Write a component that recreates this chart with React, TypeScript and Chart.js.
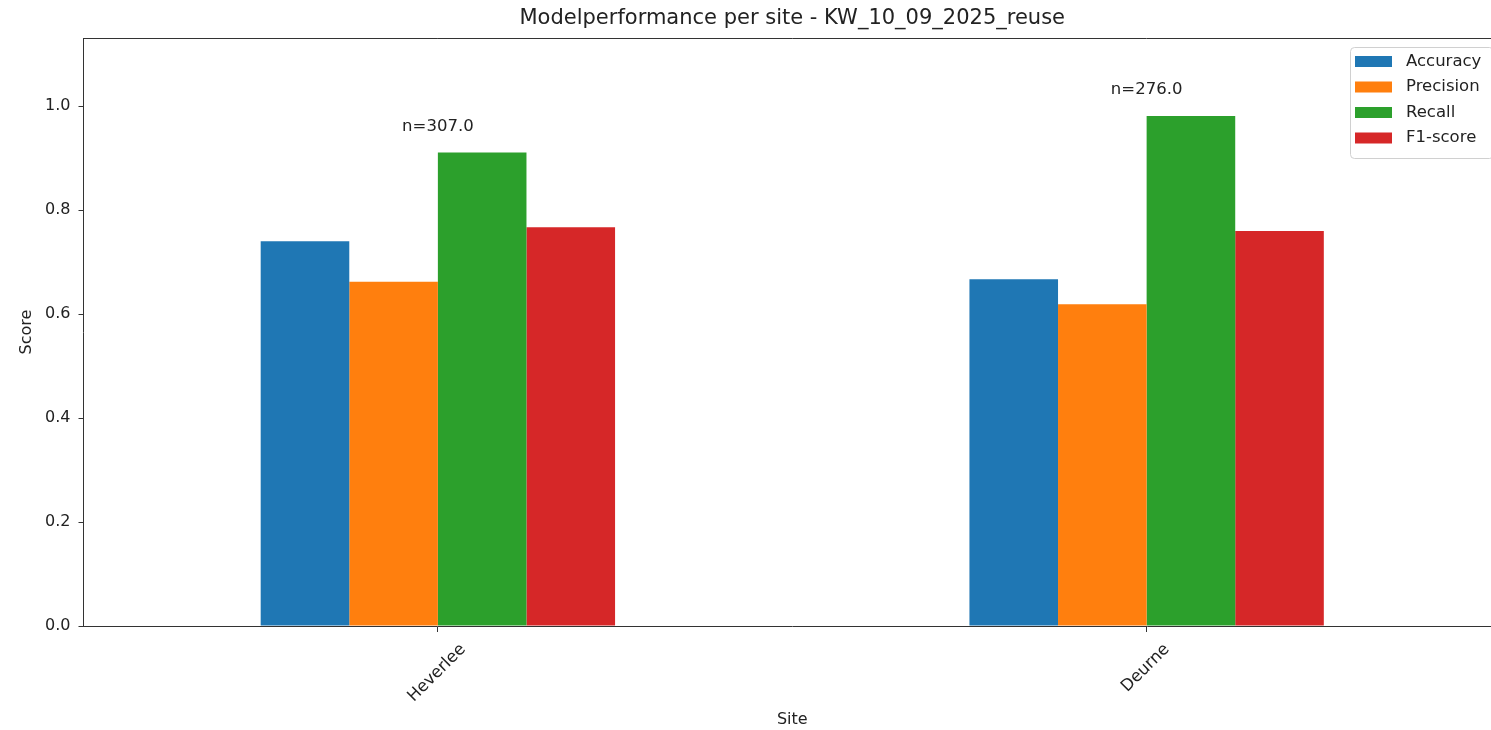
import React, { useEffect, useRef } from "react";
import { Chart, registerables } from "chart.js";

Chart.register(...registerables);

const sites = ["Heverlee", "Deurne"];
const sampleCounts = [307.0, 276.0];
const accuracy = [0.740, 0.667];
const precision = [0.662, 0.619];
const recall = [0.911, 0.981];
const f1Score = [0.767, 0.760];
const seriesNames = ["Accuracy", "Precision", "Recall", "F1-score"];
const seriesColors = ["#1f77b4", "#ff7f0e", "#2ca02c", "#d62728"];
const yTicks = [0, 0.2, 0.4, 0.6, 0.8, 1.0];
const titleText = "Modelperformance per site - KW_10_09_2025_reuse";
const xTitle = "Site";
const yTitle = "Score";

const FONT = "'DejaVu Sans', sans-serif";
const TEXT = "#222222";
const SPINE = "#333333";

const W = 1510;
const H = 730;

const decorPlugin = {
  id: "decor",
  afterDraw(chart: any) {
    const { ctx, chartArea } = chart;
    const xs = chart.scales.x;
    const ys = chart.scales.y;
    ctx.save();
    // top / right spines
    ctx.strokeStyle = SPINE;
    ctx.lineWidth = 1;
    ctx.beginPath();
    ctx.moveTo(chartArea.left, chartArea.top + 0.5);
    ctx.lineTo(chartArea.right, chartArea.top + 0.5);
    ctx.moveTo(chartArea.right - 0.5, chartArea.top);
    ctx.lineTo(chartArea.right - 0.5, chartArea.bottom);
    ctx.stroke();

    const cx = (chartArea.left + chartArea.right) / 2;
    // title
    ctx.fillStyle = TEXT;
    ctx.font = `21px ${FONT}`;
    ctx.textAlign = "center";
    ctx.textBaseline = "middle";
    ctx.fillText(titleText, cx, 19);

    // axis titles
    ctx.font = `16px ${FONT}`;
    ctx.fillText(xTitle, cx, 720);
    ctx.save();
    ctx.translate(27, (chartArea.top + chartArea.bottom) / 2);
    ctx.rotate(-Math.PI / 2);
    ctx.fillText(yTitle, 0, 0);
    ctx.restore();

    // rotated x labels (centered like matplotlib)
    const fontH = 16.5;
    ctx.font = `${fontH}px ${FONT}`;
    sites.forEach((s, i) => {
      const px = xs.getPixelForValue(i);
      const tw = ctx.measureText(s).width;
      const bboxH = (tw + fontH) * Math.SQRT1_2;
      const top = chartArea.bottom + 15;
      ctx.save();
      ctx.translate(px - 1, top + bboxH / 2);
      ctx.rotate(-Math.PI / 4);
      ctx.textAlign = "center";
      ctx.textBaseline = "middle";
      ctx.fillText(s, 0, 0);
      ctx.restore();
    });

    // n= annotations
    ctx.font = `16.5px ${FONT}`;
    sites.forEach((_, i) => {
      const m = Math.max(accuracy[i], precision[i], recall[i], f1Score[i]);
      const px = xs.getPixelForValue(i);
      const py = ys.getPixelForValue(m + 0.05);
      ctx.textAlign = "center";
      ctx.textBaseline = "middle";
      ctx.fillText(`n=${sampleCounts[i].toFixed(1)}`, px, py);
    });

    // legend
    const lx = 1350;
    const ly = 47;
    const lw = 143;
    const lh = 111;
    ctx.fillStyle = "rgba(255,255,255,0.8)";
    ctx.strokeStyle = "#d0d0d0";
    ctx.beginPath();
    (ctx as any).roundRect(lx + 0.5, ly + 0.5, lw, lh, 4);
    ctx.fill();
    ctx.stroke();
    ctx.font = `16.5px ${FONT}`;
    seriesNames.forEach((name, i) => {
      const yc = 61.5 + i * 25.5;
      ctx.fillStyle = seriesColors[i];
      ctx.fillRect(1355, yc - 5.5, 37, 11);
      ctx.fillStyle = TEXT;
      ctx.textAlign = "left";
      ctx.textBaseline = "middle";
      ctx.fillText(name, 1406, yc);
    });
    ctx.restore();
  },
};

export default function App() {
  const ref = useRef<HTMLCanvasElement | null>(null);
  useEffect(() => {
    if (!ref.current) return;
    const values = [accuracy, precision, recall, f1Score];
    const chart = new Chart(ref.current, {
      type: "bar",
      data: {
        labels: sites,
        datasets: seriesNames.map((n, i) => ({
          label: n,
          data: values[i],
          backgroundColor: seriesColors[i],
          borderColor: seriesColors[i],
          borderWidth: 0,
          categoryPercentage: 0.5,
          barPercentage: 1.0,
        })),
      },
      options: {
        animation: false,
        responsive: false,
        devicePixelRatio: 1,
        layout: { padding: { left: 0, top: 38, right: W - 1501, bottom: 0 } },
        plugins: {
          legend: { display: false },
          title: { display: false },
          tooltip: { enabled: false },
        },
        scales: {
          x: {
            type: "category",
            offset: true,
            grid: {
              offset: false,
              drawOnChartArea: false,
              drawTicks: true,
              tickLength: 6,
              color: SPINE,
            },
            border: { display: true, color: SPINE, width: 1 },
            ticks: { display: false },
            afterFit: (scale: any) => {
              scale.height = H - 626;
            },
          },
          y: {
            min: 0,
            max: 1.131,
            afterBuildTicks: (scale: any) => {
              scale.ticks = yTicks.map((v) => ({ value: v }));
            },
            ticks: {
              font: { family: FONT, size: 16 },
              color: TEXT,
              padding: 8,
              callback: (v: any) => Number(v).toFixed(1),
            },
            grid: {
              drawOnChartArea: false,
              drawTicks: true,
              tickLength: 5,
              color: SPINE,
            },
            border: { display: true, color: SPINE, width: 1 },
            afterFit: (scale: any) => {
              scale.width = 83.5;
            },
          },
        },
      },
      plugins: [decorPlugin],
    } as any);
    return () => chart.destroy();
  }, []);
  return (
    <div
      style={{
        position: "absolute",
        left: 0,
        top: 0,
        width: 1491,
        height: 730,
        overflow: "hidden",
        background: "#fff",
      }}
    >
      <canvas ref={ref} width={W} height={H} style={{ width: W, height: H, display: "block" }} />
    </div>
  );
}
